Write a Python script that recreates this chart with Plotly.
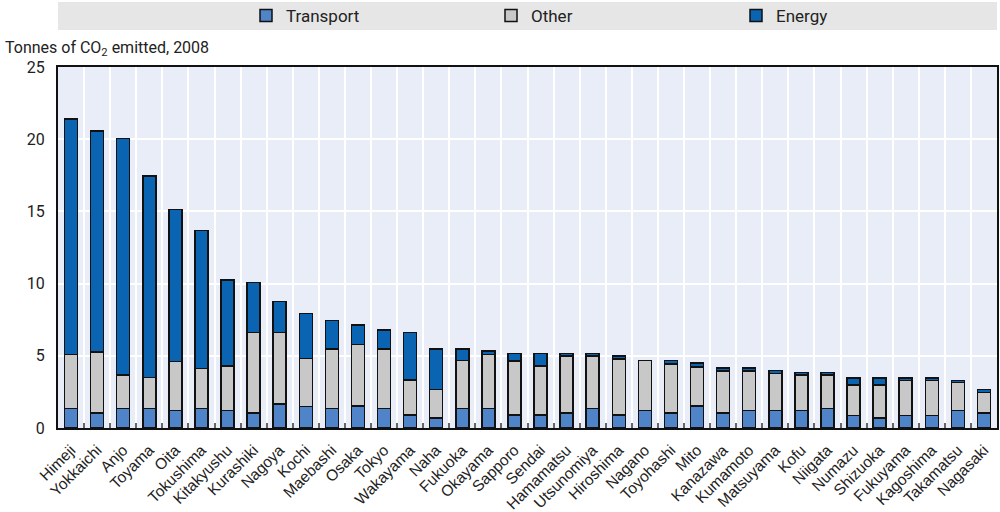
import plotly.graph_objects as go

cities = ["Himeji", "Yokkaichi", "Anjo", "Toyama", "Oita", "Tokushima", "Kitakyushu", "Kurashiki",
          "Nagoya", "Kochi", "Maebashi", "Osaka", "Tokyo", "Wakayama", "Naha", "Fukuoka", "Okayama",
          "Sapporo", "Sendai", "Hamamatsu", "Utsunomiya", "Hiroshima", "Nagano", "Toyohashi", "Mito",
          "Kanazawa", "Kumamoto", "Matsuyama", "Kofu", "Niigata", "Numazu", "Shizuoka", "Fukuyama",
          "Kagoshima", "Takamatsu", "Nagasaki"]

transport = [1.36, 1.04, 1.36, 1.36, 1.20, 1.36, 1.20, 1.04, 1.66, 1.50, 1.36, 1.54, 1.36, 0.90,
             0.71, 1.36, 1.36, 0.90, 0.90, 1.04, 1.36, 0.90, 1.22, 1.04, 1.52, 1.04, 1.20, 1.20,
             1.20, 1.36, 0.87, 0.71, 0.87, 0.87, 1.20, 1.04]
other = [3.74, 4.24, 2.31, 2.14, 3.41, 2.77, 3.11, 5.56, 4.94, 3.30, 4.11, 4.23, 4.11, 2.42,
         1.96, 3.32, 3.74, 3.74, 3.41, 3.94, 3.62, 3.88, 3.46, 3.39, 2.70, 2.91, 2.75, 2.58,
         2.47, 2.31, 2.11, 2.27, 2.43, 2.43, 1.94, 1.43]
energy = [16.30, 15.29, 16.39, 13.95, 10.53, 9.56, 5.94, 3.46, 2.15, 3.14, 1.98, 1.36, 1.32, 3.30,
          2.80, 0.79, 0.23, 0.51, 0.84, 0.17, 0.17, 0.20, 0.00, 0.23, 0.28, 0.21, 0.21, 0.21,
          0.16, 0.16, 0.50, 0.50, 0.18, 0.18, 0.16, 0.18]

series = [("Transport", transport, "#4f84c8"),
          ("Other", other, "#c8c8c8"),
          ("Energy", energy, "#0a64b1")]

fig = go.Figure()
for name, vals, col in series:
    fig.add_trace(go.Bar(
        x=cities, y=vals, name=name,
        marker=dict(color=col, line=dict(color="#111111", width=1.5)),
    ))

narrow = "Liberation Sans Narrow, Arial Narrow, Roboto, sans-serif"

W, H = 1000, 512
L, R, T, B = 58, 3, 67, 84
PW, PH = W - L - R, H - T - B


def px_x(p):
    return (p - L) / PW


def px_y(p):
    return (H - B - p) / PH


fig.update_layout(
    barmode="stack",
    bargap=0.5,
    width=W, height=H,
    margin=dict(l=L, r=R, t=T, b=B, autoexpand=False),
    paper_bgcolor="white",
    plot_bgcolor="#e8edf7",
    font=dict(family=narrow, size=15, color="#222222"),
    showlegend=True,
    legend=dict(orientation="h", x=px_x(246), xanchor="left", y=px_y(16), yanchor="middle",
                bgcolor="rgba(0,0,0,0)", font=dict(family=narrow, size=17, color="#222222"),
                entrywidth=200, traceorder="normal"),
    shapes=[dict(type="rect", xref="paper", yref="paper", x0=0, x1=1, y0=px_y(30), y1=px_y(2),
                 fillcolor="#e6e6e6", line=dict(width=0), layer="below")],
    annotations=[dict(text="Tonnes of CO<sub>2</sub> emitted, 2008", xref="paper", yref="paper",
                      x=px_x(3), y=px_y(36), xanchor="left", yanchor="top", showarrow=False,
                      font=dict(family=narrow, size=16, color="#222222"))],
)

fig.update_xaxes(
    type="category", tickson="boundaries", ticks="inside", ticklen=5, tickcolor="#666666",
    tickwidth=1.5, showgrid=True, gridcolor="white", gridwidth=1.5,
    showline=True, linecolor="#111111", linewidth=2, mirror=True,
    tickangle=-45, ticklabelstandoff=5,
    tickfont=dict(family="Liberation Sans, Arial, sans-serif", size=15.5, color="#222222"),
)
fig.update_yaxes(
    range=[0, 25], dtick=5, showgrid=True, gridcolor="white", gridwidth=1.5,
    showline=True, linecolor="#111111", linewidth=2, mirror=True, ticks="",
    ticklabelstandoff=8,
    zeroline=False, tickfont=dict(family=narrow, size=16, color="#222222"),
)

# remove the default page margin so the figure sits at the window's top-left corner
fig.write_html("out.html", config={"displayModeBar": False},
               post_script="document.body.style.margin='0';")
